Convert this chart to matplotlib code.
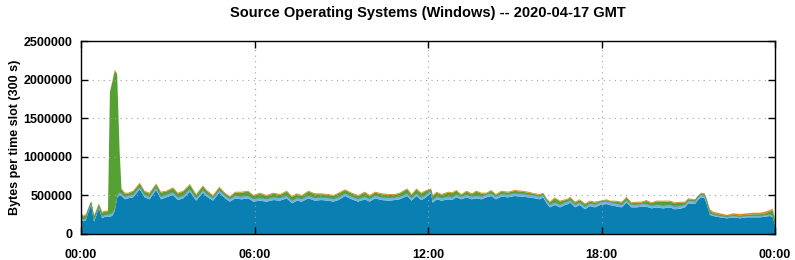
import matplotlib
matplotlib.use("Agg")
import matplotlib.pyplot as plt
import numpy as np

# lecturas del grafico de referencia (minutos desde 00:00, valores en miles de bytes)
minutos = [0, 5, 10, 15, 21, 27, 31, 37, 44, 50, 56, 60, 65, 70, 75, 80, 84, 91, 98, 108,
           122, 132, 142, 156, 166, 177, 191, 201, 212, 226, 239, 253, 261, 274, 287, 299, 309, 320, 333, 347,
           358, 371, 385, 399, 413, 427, 438, 448, 458, 472, 485, 499, 513, 524, 534, 548, 562, 575, 589, 599,
           610, 624, 638, 651, 661, 677, 686, 696, 706, 713, 726, 730, 738, 748, 762, 770, 779, 789, 800, 811,
           820, 831, 841, 851, 861, 872, 886, 900, 914, 928, 942, 952, 959, 966, 973, 983, 994, 1004, 1011, 1015,
           1025, 1035, 1046, 1056, 1066, 1077, 1091, 1097, 1108, 1122, 1132, 1142, 1153, 1163, 1173, 1184, 1194, 1208, 1222, 1232,
           1246, 1253, 1260, 1274, 1280, 1287, 1294, 1298, 1305, 1312, 1326, 1340, 1354, 1367, 1381, 1395, 1409, 1419, 1430, 1435,
           1440]

total_k = [276, 240, 255, 330, 418, 246, 300, 397, 289, 302, 305, 1850, 1980, 2130, 2080, 1100, 592, 535, 535, 561,
           665, 561, 535, 656, 548, 561, 605, 535, 561, 648, 518, 630, 570, 505, 613, 535, 492, 548, 548, 561,
           505, 535, 505, 535, 518, 561, 492, 527, 505, 561, 527, 527, 518, 505, 535, 579, 535, 505, 548, 505,
           548, 527, 518, 518, 535, 591, 518, 591, 535, 561, 591, 505, 548, 518, 548, 540, 570, 518, 561, 527,
           561, 535, 535, 570, 518, 561, 548, 570, 561, 548, 527, 518, 535, 462, 419, 475, 432, 449, 462, 484,
           419, 449, 397, 432, 419, 432, 449, 432, 432, 419, 484, 410, 419, 419, 440, 410, 432, 432, 432, 410,
           419, 419, 462, 449, 492, 535, 527, 449, 320, 289, 268, 246, 268, 259, 268, 276, 276, 289, 311, 330,
           210]

azul_k = [190, 165, 175, 280, 375, 160, 225, 333, 203, 224, 226, 225, 235, 300, 470, 505, 492, 449, 462, 475,
          579, 475, 449, 570, 449, 475, 505, 440, 462, 548, 432, 535, 484, 432, 535, 462, 419, 462, 449, 462,
          419, 432, 419, 440, 432, 462, 397, 432, 419, 462, 432, 440, 432, 419, 440, 492, 449, 419, 449, 419,
          462, 440, 432, 440, 449, 492, 432, 492, 440, 462, 527, 406, 449, 432, 449, 440, 475, 449, 475, 449,
          462, 449, 475, 492, 449, 484, 475, 492, 484, 475, 462, 449, 475, 397, 345, 375, 345, 375, 388, 406,
          345, 375, 320, 362, 345, 375, 388, 375, 362, 345, 406, 345, 345, 354, 354, 332, 345, 332, 345, 320,
          332, 345, 397, 388, 440, 475, 462, 397, 246, 233, 216, 203, 216, 203, 216, 216, 216, 225, 233, 220,
          120]

# capas delgadas (miles de bytes)
celeste_k = [30] * 11 + [40] * 117 + [24] * 13
naranja_k = [12] * 128 + [20] * 12 + [30]

minutos = np.array(minutos) / 60.0
total = np.array(total_k) * 1000.0
azul = np.array(azul_k) * 1000.0
celeste = np.array(celeste_k) * 1000.0
naranja = np.array(naranja_k) * 1000.0
verde = np.clip(total - azul - celeste - naranja, 0, None)

colores = ["#0a80b2", "#70b5de", "#55a032", "#dd8a1e"]

plt.rcParams['font.family'] = ['Liberation Sans', 'DejaVu Sans']
plt.rcParams['font.weight'] = 'bold'

fig = plt.figure(figsize=(7.95, 2.6), dpi=100)
ax = fig.add_axes([81 / 795, 26 / 260, 694 / 795, 193 / 260])

ax.stackplot(minutos, azul, celeste, verde, naranja, colors=colores, linewidth=0)
# linea verde grisacea entre celeste y verde
ax.plot(minutos, azul + celeste, color="#5f9a5a", lw=0.8)

ax.set_xlim(0, 24)
ax.set_ylim(0, 2500000)
ax.set_xticks([0, 6, 12, 18, 24])
ax.set_xticklabels(["00:00", "06:00", "12:00", "18:00", "00:00"])
ax.set_yticks(np.arange(0, 2500001, 500000))
ax.set_yticklabels([str(v) for v in range(0, 2500001, 500000)])
ax.tick_params(direction='in', length=5, width=1, top=True, right=True, labelsize=9)
ax.tick_params(axis='x', pad=11)
ax.tick_params(axis='y', pad=6)
for lbl in ax.get_xticklabels() + ax.get_yticklabels():
    lbl.set_fontweight('bold')
ax.grid(True, color='#a0a0a0', linestyle=(0, (1, 4)), linewidth=0.8)
for s in ax.spines.values():
    s.set_linewidth(1.0)

ax.set_ylabel("Bytes per time slot (300 s)", fontsize=9, fontweight='bold', labelpad=2)
fig.suptitle("Source Operating Systems (Windows) -- 2020-04-17 GMT", x=428 / 795, y=0.975,
             fontsize=10.5, fontweight='bold')

fig.savefig("out.png", dpi=100)
